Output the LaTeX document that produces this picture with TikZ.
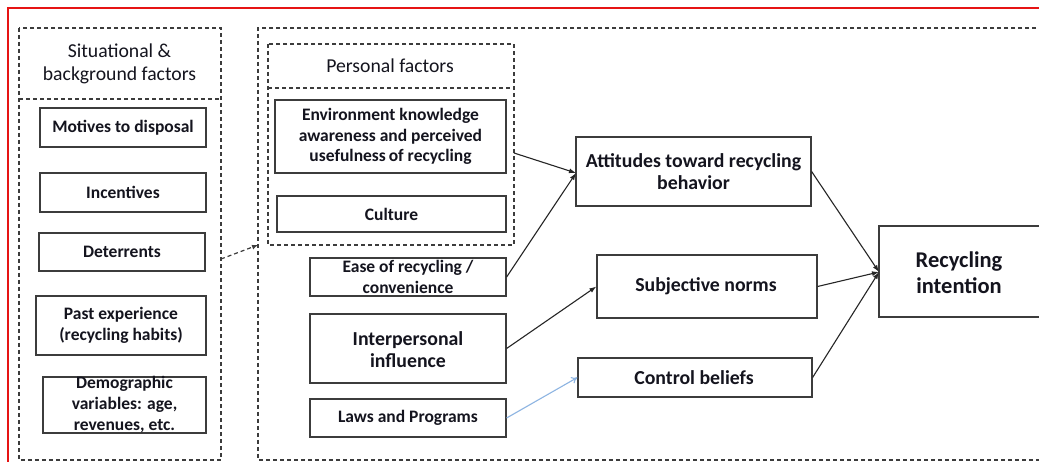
\documentclass[tikz,border=0pt]{standalone}
\usepackage{fontspec}
\setmainfont{Carlito}
\usetikzlibrary{arrows.meta}
\definecolor{boxgray}{RGB}{60,60,60}
\definecolor{txtdark}{RGB}{20,20,30}
\definecolor{bluearrow}{RGB}{141,180,226}
\definecolor{framered}{RGB}{230,20,20}
\begin{document}
\begin{tikzpicture}[x=1pt,y=-1pt,
  box/.style={draw=boxgray, line width=1.2pt, inner sep=0pt},
  dbox/.style={draw=boxgray, line width=1.2pt, dash pattern=on 4pt off 3pt},
  lbl/.style={align=center, inner sep=0pt, text=txtdark, font=\bfseries\fontsize{17.5}{20.5}\selectfont},
  lblbig/.style={lbl, font=\bfseries\fontsize{19.8}{22.5}\selectfont},
  lblhuge/.style={lbl, font=\bfseries\fontsize{22.5}{26}\selectfont},
  hdr/.style={align=center, inner sep=0pt, text=txtdark, font=\fontsize{19.7}{23}\selectfont},
  arr/.style={draw=black!85, line width=1.1pt, -{Latex[length=7pt,width=5pt]}},
  barr/.style={draw=bluearrow, line width=1.1pt, -{To[length=6pt,width=7pt]}},
  darr/.style={draw=boxgray, line width=1.2pt, dash pattern=on 4pt off 3pt, -{Latex[length=6pt,width=5pt]}}
]
\clip (0,0) rectangle (1039,462);
\useasboundingbox (0,0) rectangle (1039,462);
\fill[white] (0,0) rectangle (1039,462);

% red frame
\draw[framered, line width=1.4pt] (8,470) -- (8,8) -- (1050,8);

% left dashed group
\draw[dbox] (19,28) rectangle (221,460);
\draw[dbox] (19,99) -- (221,99);
\node[hdr] (sithdr) at (119.5,63.5) {Situational \&\\background factors};

% big right dashed group
\draw[dbox] (1050,28) -- (258,28) -- (258,460) -- (1050,460);

% personal factors
\draw[dbox] (268,44) rectangle (514,245);
\draw[dbox] (268,88) -- (514,88);
\node[hdr] (pfhdr) at (390,66) {Personal factors};

% left boxes
\node[box, minimum width=166pt, minimum height=39pt] (motives) at (123,127.5) {};
\node[lbl] at (motives) {Motives to disposal};
\node[box, minimum width=166pt, minimum height=39pt] (incent) at (123,192.5) {};
\node[lbl] at (incent) {Incentives};
\node[box, minimum width=166pt, minimum height=38pt] (deter) at (122,252) {};
\node[lbl] at (deter) {Deterrents};
\node[box, minimum width=170pt, minimum height=59pt] (past) at (121,325.5) {};
\node[lbl] at (past) {Past experience\\(recycling habits)};
\node[box, minimum width=163pt, minimum height=56pt] (demo) at (124.5,405) {};
\node[lbl, font=\bfseries\fontsize{17.5}{21}\selectfont] at (demo) {Demographic\\variables: age,\\revenues, etc.};

% personal boxes
\node[box, minimum width=231pt, minimum height=73pt] (env) at (390.5,136.5) {};
\node[lbl] at (env) {Environment knowledge\\awareness and perceived\\usefulness\,of recycling};
\node[box, minimum width=229pt, minimum height=36pt] (culture) at (391.5,214) {};
\node[lbl] at (culture) {Culture};

% other factors
\node[box, minimum width=196pt, minimum height=38pt] (ease) at (408,277) {};
\node[lbl] at (ease) {Ease of recycling /\\convenience};
\node[box, minimum width=196pt, minimum height=69pt] (interp) at (408,348.5) {};
\node[lblbig] at (408,349.5) {Interpersonal\\influence};
\node[box, minimum width=196pt, minimum height=38pt] (laws) at (408,418) {};
\node[lbl] at (laws) {Laws and Programs};

% middle column
\node[box, minimum width=235pt, minimum height=69pt] (att) at (693.5,171.5) {};
\node[lblbig] at (att) {Attitudes toward recycling\\behavior};
\node[box, minimum width=220pt, minimum height=63pt] (subj) at (707,286.5) {};
\node[lblbig] at (706,286.5) {Subjective norms};
\node[box, minimum width=234pt, minimum height=39pt] (ctrl) at (695,377.5) {};
\node[lblbig] at (694,377.5) {Control beliefs};

% outcome
\node[box, minimum width=162pt, minimum height=91pt] (intent) at (960,271.5) {};
\node[lblhuge] at (959,273) {Recycling\\intention};

% connectors
\coordinate (sitE) at (221,259);
\coordinate (bigW) at (258,245);
\draw[darr] (sitE) -- (bigW);

\coordinate (pfE) at (514,153);
\coordinate (attW) at (576,173);
\draw[arr] (pfE) -- (attW);
\draw[arr] (ease.east) -- (attW);
\draw[arr] (interp.east) -- (subj.west);
\draw[barr] (laws.east) -- (ctrl.west);

\coordinate (intW) at (879,272);
\draw[arr] (att.east) -- (intW);
\draw[arr] (subj.east) -- (intW);
\draw[arr] (ctrl.east) -- (intW);
\end{tikzpicture}
\end{document}
